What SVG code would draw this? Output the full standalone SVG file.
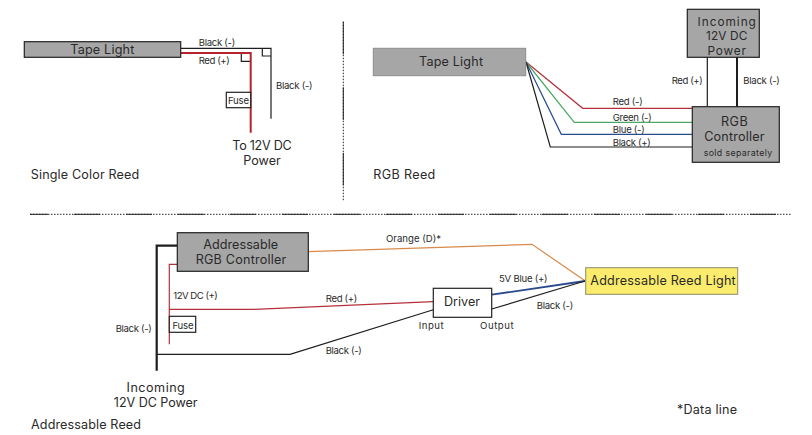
<svg xmlns="http://www.w3.org/2000/svg" width="812" height="435" viewBox="0 0 812 435">
<style>
text{font-family:"Inter","Open Sans","Liberation Sans",sans-serif;fill:#2a2a2a}
.s{font-size:9.6px}.m{font-size:12.6px}.c{text-anchor:middle}
.w{fill:none;stroke:#1e1e1e;stroke-width:1.2}
.g{fill:#a6a6a6;stroke:#222;stroke-width:1.2}
.f{fill:#fff;stroke:#222;stroke-width:1.2}
.dot{fill:none;stroke:#222;stroke-width:1;stroke-dasharray:1.5 1.5}
.sol{fill:none;stroke:#222;stroke-width:1}
</style>
<rect width="812" height="435" fill="#fff"/>
<g id="connectors">
<path class="w" d="M181 48.3H271V118.7"/>
<path class="w" d="M241.3 53V61.3H250.7M262.3 48.3V56H271"/>
<path d="M181 53H250.7V132.7" fill="none" stroke="#b5232e" stroke-width="2"/>
<path d="M526 62L582.7 108.3H692" fill="none" stroke="#b5303a" stroke-width="1.2"/>
<path d="M526 62L574.3 122.3H692" fill="none" stroke="#4aa864" stroke-width="1.2"/>
<path d="M526 62L561.3 134.3H692" fill="none" stroke="#2a4a90" stroke-width="1.2"/>
<path class="w" d="M526 62L550.3 147H692"/>
<path class="w" d="M707.3 57V107"/>
<path class="w" style="stroke-width:2" d="M737 57V107"/>
<path class="w" style="stroke-width:2.2" d="M177 245.7H156.7V370.7"/>
<path d="M177 264.3H169.3V344.3M169.3 309.3H254L433.3 301.7" fill="none" stroke="#b5303a" stroke-width="1.2"/>
<path class="w" d="M157 354.3H290L433.3 309.7"/>
<path d="M308.3 251.7L532 244.3L585 280.7" fill="none" stroke="#d98a4a" stroke-width="1.2"/>
<path d="M491.7 294.7L585 281" fill="none" stroke="#2a4a90" stroke-width="1.8"/>
<path class="w" d="M491.7 309L585 281"/>
<path class="dot" d="M343.3 21.7V201M30 214.3H791"/>
<path class="sol" stroke-dasharray="32.6 33" d="M343.3 21.7V201"/>
<path class="sol" stroke-dasharray="26 26" stroke-dashoffset="8" d="M30 214.3H791"/>
</g>
<g id="tape-light-1"><rect class="g" x="24.3" y="41.7" width="156.4" height="15.6"/><text class="m c" x="102.3" y="54" textLength="64">Tape Light</text></g>
<g id="fuse-1"><rect class="f" x="226.3" y="92.3" width="24.4" height="15.4"/><text class="s" x="228" y="103.7" textLength="21">Fuse</text></g>
<g id="tape-light-2"><rect x="373.3" y="48.3" width="152.4" height="27.4" fill="#a6a6a6" stroke="#8c8c8c"/><text class="m c" x="451" y="65.7" textLength="64">Tape Light</text></g>
<g id="incoming-power" font-size="11.8"><rect class="g" x="687.3" y="9.3" width="72" height="48"/><text class="c" x="726.7" y="25.5" textLength="58.3">Incoming</text><text class="c" x="726.7" y="40" textLength="41.3">12V DC</text><text class="c" x="726.7" y="54.7" textLength="38.3">Power</text></g>
<g id="rgb-controller"><rect class="g" x="692.3" y="106.7" width="87" height="55.6"/><text class="m c" x="734.3" y="126" textLength="26.7">RGB</text><text class="m c" x="734.3" y="140.7" textLength="60.3">Controller</text><text x="703.7" y="155.7" font-size="8.8" textLength="68.5">sold separately</text></g>
<g id="addressable-controller"><rect class="g" x="177.3" y="232.7" width="131" height="38.6"/><text class="m c" x="240.7" y="248.7" textLength="75">Addressable</text><text class="m c" x="241" y="263.7" textLength="90.7">RGB Controller</text></g>
<g id="fuse-2"><rect class="f" x="169.3" y="316.3" width="26.4" height="16"/><text class="s" x="172.5" y="328.7" textLength="21">Fuse</text></g>
<g id="driver"><rect class="f" x="433.3" y="288.3" width="58.4" height="29"/><text class="m c" x="462" y="305.7" textLength="36">Driver</text></g>
<g id="reed-light"><rect x="585.7" y="267.7" width="152" height="26.6" fill="#fbec6d" stroke="#8c8c6c"/><text class="m" x="590.3" y="284.7" textLength="145.4">Addressable Reed Light</text></g>
<g id="labels">
<text class="s" x="198.7" y="46" textLength="36.5">Black (-)</text>
<text class="s" x="198.7" y="64" textLength="31">Red (+)</text>
<text class="s" x="276" y="89" textLength="36.5">Black (-)</text>
<text class="m c" x="262" y="150" textLength="59.3">To 12V DC</text>
<text class="m c" x="262" y="164.7" textLength="37.7">Power</text>
<text class="m" x="30.7" y="179" textLength="108.5">Single Color Reed</text>
<text class="m" x="373.3" y="178.7" textLength="62">RGB Reed</text>
<text class="s" x="671.7" y="83.7" textLength="31">Red (+)</text>
<text class="s" x="743.3" y="83.7" textLength="36.5">Black (-)</text>
<text class="s" x="612.7" y="104.7" textLength="30">Red (-)</text>
<text class="s" x="612.7" y="120.7" textLength="39">Green (-)</text>
<text class="s" x="612.7" y="132.7" textLength="32">Blue (-)</text>
<text class="s" x="612.7" y="145.7" textLength="38">Black (+)</text>
<text class="s" x="386" y="241.7" textLength="55">Orange (D)*</text>
<text class="s" x="173.3" y="299" textLength="44.5">12V DC (+)</text>
<text class="s" x="325.7" y="302" textLength="31.5">Red (+)</text>
<text class="s" x="115.7" y="331.7" textLength="36">Black (-)</text>
<text class="s" x="325.7" y="353.7" textLength="36">Black (-)</text>
<text class="s" x="499" y="281.7" textLength="48.5">5V Blue (+)</text>
<text class="s" x="536.7" y="309" textLength="36.5">Black (-)</text>
<text class="s" x="418.7" y="328.7" textLength="25">Input</text>
<text class="s" x="480" y="328.7" textLength="33.7">Output</text>
<text class="m c" x="155.7" y="392" textLength="58.3">Incoming</text>
<text class="m c" x="155.7" y="406.7" textLength="83.7">12V DC Power</text>
<text class="m" x="31" y="429" textLength="110">Addressable Reed</text>
<text class="m" x="677" y="414" textLength="60">*Data line</text>
</g>
</svg>
